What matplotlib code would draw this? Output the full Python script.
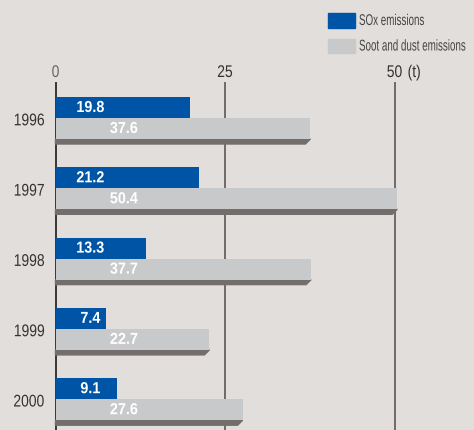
import matplotlib
matplotlib.use("Agg")
import matplotlib.pyplot as plt
from matplotlib.patches import Polygon, Rectangle
from matplotlib.patheffects import AbstractPathEffect
from matplotlib.transforms import Affine2D

years = ["1996", "1997", "1998", "1999", "2000"]
sox = [19.8, 21.2, 13.3, 7.4, 9.1]
soot = [37.6, 50.4, 37.7, 22.7, 27.6]
ticks = [0, 25, 50]
unit_label = "(t)"
series_names = ["SOx emissions", "Soot and dust emissions"]

BG = "#E2DEDB"
BLUE = "#0054A6"
GRAY = "#C8C9CB"
SHADOW = "#736D6C"
GRID = "#6F6A69"
TEXT = "#333333"

plt.rcParams["font.family"] = ["Liberation Sans", "DejaVu Sans"]


class Condense(AbstractPathEffect):
    """Narrow the glyphs horizontally around a chosen anchor of the text."""

    def __init__(self, sx, anchor="center"):
        super().__init__()
        self.sx = sx
        self.anchor = anchor

    def draw_path(self, renderer, gc, tpath, affine, rgbFace=None):
        ext = tpath.get_extents()
        if self.anchor == "left":
            cx = 0.0
        elif self.anchor == "right":
            cx = ext.x1
        else:
            cx = 0.5 * (ext.x0 + ext.x1)
        squeeze = Affine2D().translate(-cx, 0).scale(self.sx, 1).translate(cx, 0)
        renderer.draw_path(gc, tpath, squeeze + affine, rgbFace)


W, H = 474, 431
fig = plt.figure(figsize=(W / 100, H / 100), dpi=100, facecolor=BG)

# plot area: value 0 at 55.5 px, 50 at 394.5 px; from 84 px down to the bottom
x0_px, x50_px = 55.5, 394.5
top_px, bot_px = 84, 431
ax = fig.add_axes([x0_px / W, 0, (x50_px - x0_px) / W, (bot_px - top_px) / H])
ax.set_facecolor("none")
for s in ax.spines.values():
    s.set_visible(False)
ax.set_xticks([])
ax.set_yticks([])
ax.set_xlim(0, 50)

px_per_unit_y = 70.3
first_px = 119
ax.set_ylim((bot_px - first_px) / px_per_unit_y, (top_px - first_px) / px_per_unit_y)

px_per_unit_x = (x50_px - x0_px) / 50
bar_h = 21 / px_per_unit_y
shadow_h = 5 / px_per_unit_y
shadow_dx = 5 / px_per_unit_x

# vertical reference lines
for t in ticks:
    ax.axvline(t, color="#3A3636" if t == 0 else GRID, lw=1.4, zorder=1,
               clip_on=False)

idx = list(range(len(years)))
ax.barh([i - bar_h / 2 for i in idx], sox, height=bar_h, color=BLUE,
        zorder=3, clip_on=False)
ax.barh([i + bar_h / 2 for i in idx], soot, height=bar_h, color=GRAY,
        zorder=3, clip_on=False)

# drop shadow under the soot bars with a slanted right end
for i, v in zip(idx, soot):
    yb = i + bar_h
    poly = Polygon([(0, yb), (v, yb), (v - shadow_dx, yb + shadow_h),
                    (0, yb + shadow_h)], closed=True, color=SHADOW,
                   zorder=2, clip_on=False)
    ax.add_patch(poly)

# value labels inside the bars
bold_fx = [Condense(0.9, "center")]
for i, a, b in zip(idx, sox, soot):
    ax.text(5.15, i - bar_h / 2, f"{a:.1f}", color="white", fontsize=11.5,
            fontweight="bold", ha="center", va="center", zorder=4,
            path_effects=bold_fx)
    ax.text(10.1, i + bar_h / 2, f"{b:.1f}", color="white", fontsize=11.5,
            fontweight="bold", ha="center", va="center", zorder=4,
            path_effects=bold_fx)

# year labels
for i, y in zip(idx, years):
    ax.text(-1.65, i + 0.04, y, color=TEXT, fontsize=12.2, ha="right",
            va="center", path_effects=[Condense(0.82, "right")])

# value scale above the plot
tick_y = (73.5 - first_px) / px_per_unit_y
for t in ticks:
    ax.text(t, tick_y, str(t), color="#666666" if t == 0 else TEXT,
            fontsize=12.2, ha="center", va="center", clip_on=False,
            path_effects=[Condense(0.82, "center")])
ax.text(52.9, tick_y, unit_label, color=TEXT, fontsize=12.2, ha="center",
        va="center", clip_on=False, path_effects=[Condense(0.82, "center")])

# legend
fig.patches.append(Rectangle((328 / W, 1 - 29 / H), 27 / W, 15 / H,
                             transform=fig.transFigure, color=BLUE))
fig.patches.append(Rectangle((328 / W, 1 - 54 / H), 27 / W, 14 / H,
                             transform=fig.transFigure, color=GRAY))
leg_fx = [Condense(0.63, "left")]
fig.text(359 / W, 1 - 21.5 / H, series_names[0], color="#444444",
         fontsize=11.2, ha="left", va="center", path_effects=leg_fx)
fig.text(359 / W, 1 - 47 / H, series_names[1], color="#444444",
         fontsize=11.2, ha="left", va="center", path_effects=leg_fx)

fig.savefig("out.png", dpi=100, facecolor=BG)
